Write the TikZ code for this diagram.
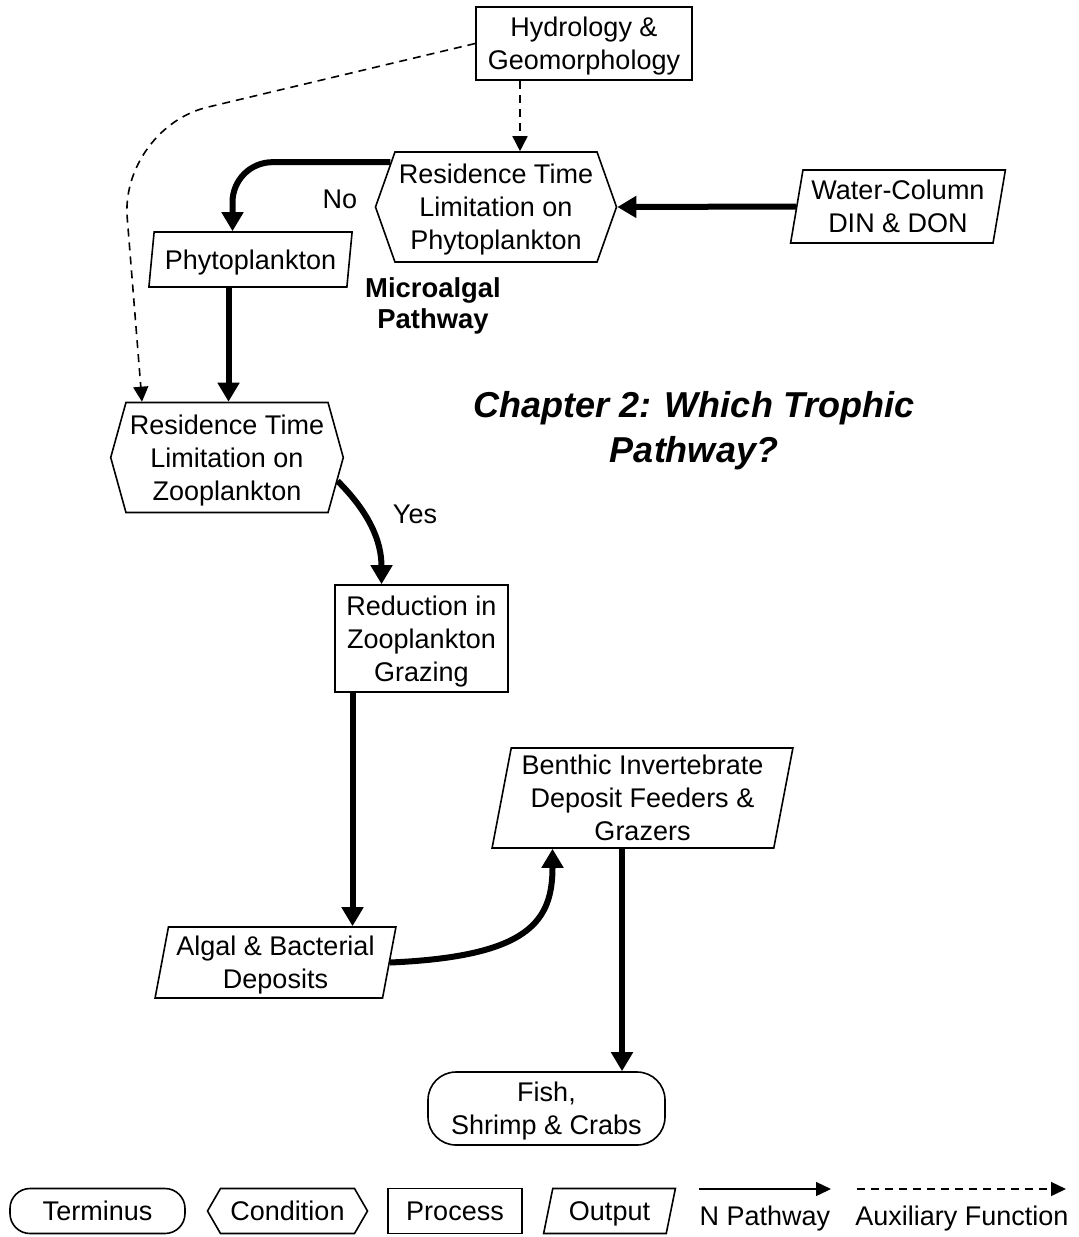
\documentclass[tikz,border=0pt]{standalone}
\usepackage{fontspec}
\setmainfont{Liberation Sans}
\usetikzlibrary{shapes.geometric, shapes.symbols, arrows.meta, positioning, calc}

\begin{document}
\begin{tikzpicture}[x=0.5pt, y=-0.5pt,
    box/.style={draw, line width=0.8pt, align=center, inner sep=2pt, text depth=0pt, font=\fontsize{13.5}{16.5}\selectfont},
    process/.style={box, rectangle},
    terminus/.style={box, rectangle, rounded corners=14pt},
    condition/.style={box, signal, signal to=west and east, signal pointer angle=#1},
    output/.style 2 args={box, trapezium, trapezium stretches=true, trapezium left angle=#1, trapezium right angle=#2},
    lbl/.style={font=\fontsize{13.5}{16.5}\selectfont, align=center},
    npath/.style={line width=3pt, -{Triangle[length=9.5pt, width=10.5pt]}},
    auxpath/.style={line width=0.8pt, dash pattern=on 4pt off 3pt, -{Triangle[length=7.5pt, width=7.5pt]}},
    legarrow/.style={line width=0.7pt, -{Triangle[length=7.5pt, width=7pt]}}]
    \useasboundingbox (0,0) rectangle (1078,1237);

    % Boxes
    \node[process, minimum width=108pt, minimum height=36.5pt] (hydro) at (584,43.5) {Hydrology \&\\Geomorphology};
    \node[condition=141, minimum width=120pt, minimum height=55pt] (condphyto) at (496,207) {Residence Time\\Limitation on\\Phytoplankton};
    \node[output={79}{101}, minimum width=107.5pt, minimum height=36.5pt] (water) at (898,206.5) {Water-Column\\DIN \& DON};
    \node[output={80}{100}, minimum width=102.5pt, minimum height=27.5pt] (phyto) at (250.5,259.5) {Phytoplankton};
    \node[condition=149, minimum width=115pt, minimum height=55pt] (condzoo) at (227,457.5) {Residence Time\\Limitation on\\Zooplankton};
    \node[process, minimum width=86.5pt, minimum height=53.5pt] (reduct) at (421.5,638.5) {Reduction in\\Zooplankton\\Grazing};
    \node[output={79}{101}, minimum width=150.5pt, minimum height=50pt] (benthic) at (642.5,798) {Benthic Invertebrate\\Deposit Feeders \&\\Grazers};
    \node[output={78}{102}, minimum width=120.5pt, minimum height=35.5pt] (algal) at (275.5,962.5) {Algal \& Bacterial\\Deposits};
    \node[terminus, minimum width=118.5pt, minimum height=36.5pt] (fish) at (546.5,1108.5) {Fish,\\Shrimp \& Crabs};

    % Labels
    \node[lbl, font=\fontsize{13.7}{15.5}\selectfont\bfseries] (microalgal) at (433,305.5) {Microalgal\\Pathway};
    \node[align=center, font=\fontsize{18}{22.5}\selectfont\bfseries\itshape] (chapter) at (694,430.5) {Chapter 2: Which Trophic\\Pathway?};
    \node[lbl] (no) at (340,199) {No};
    \node[lbl] (yes) at (415,514) {Yes};

    % Auxiliary links
    \coordinate (auxbend) at (120,128);
    \draw[auxpath] ([xshift=-32pt]hydro.south) -- ([xshift=-32pt]hydro.south |- condphyto.north);
    \draw[auxpath, rounded corners=45pt] (hydro.west) -- (auxbend) -- ([xshift=-42.5pt]condzoo.north);

    % N pathway
    \draw[npath] (water.west) -- (condphyto.east);
    \draw[npath, rounded corners=20pt] (condphyto.157) -| ([xshift=-9pt]phyto.north);
    \draw[npath] ([xshift=-11pt]phyto.south) -- ([xshift=-11pt]phyto.south |- condzoo.north);
    \draw[npath] (condzoo.-12) to[out=-45, in=90] ([xshift=-20pt]reduct.north);
    \draw[npath] ([xshift=-34.5pt]reduct.south) -- ([xshift=-34.5pt]reduct.south |- algal.north);
    \coordinate (benin) at ([xshift=-45pt]benthic.south);
    \draw[npath] (algal.east) .. controls ($(algal.east)+(140,-6)$) and ($(benin)+(0,72)$) .. (benin);
    \draw[npath] ([xshift=-10.25pt]benthic.south) -- ([xshift=-10.25pt]benthic.south |- fish.north);

    % Legend
    \node[terminus, rounded corners=10pt, minimum width=87.5pt, minimum height=22.5pt] (lterm) at (97.5,1211) {Terminus};
    \node[condition=120, minimum width=80pt, minimum height=22.5pt] (lcond) at (287.5,1211) {Condition};
    \node[process, minimum width=67pt, minimum height=22.5pt] (lproc) at (455,1211) {Process};
    \node[output={75}{105}, minimum width=66pt, minimum height=22.5pt] (lout) at (609.5,1211) {Output};
    \coordinate (npstart) at (699,1189);
    \coordinate (npend) at (831,1189);
    \draw[legarrow] (npstart) -- (npend);
    \node[lbl] (nptext) at (765,1219) {N Pathway};
    \coordinate (auxstart) at (857,1189);
    \coordinate (auxend) at (1066,1189);
    \draw[legarrow, dash pattern=on 4pt off 3pt] (auxstart) -- (auxend);
    \node[lbl] (auxtext) at (962,1219) {Auxiliary Function};
\end{tikzpicture}
\end{document}
